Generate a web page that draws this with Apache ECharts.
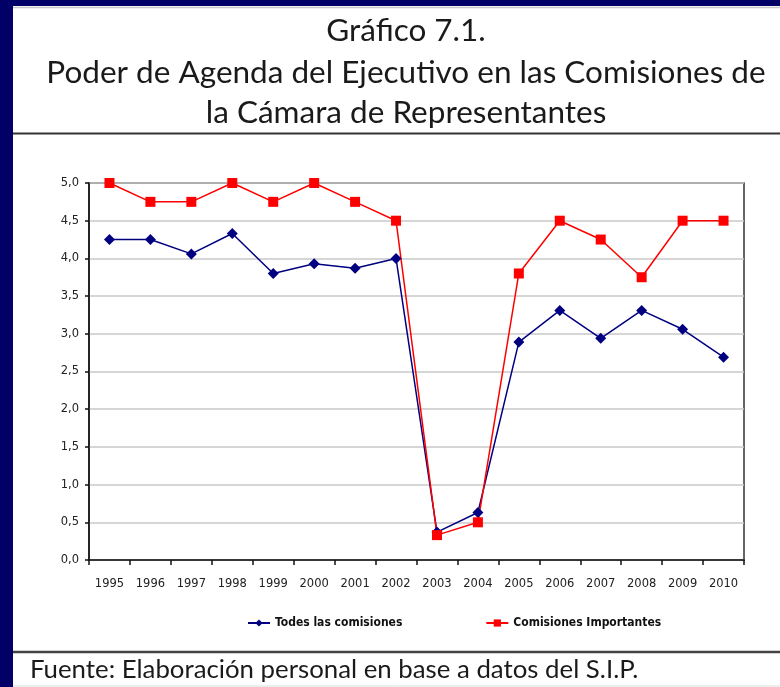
<!DOCTYPE html>
<html>
<head>
<meta charset="utf-8">
<script src="https://cdn.jsdelivr.net/npm/echarts@6/dist/echarts.min.js"></script>
<style>
html,body{margin:0;padding:0;background:#fff;}
#chart{width:780px;height:687px;}
</style>
</head>
<body>
<div id="chart"></div>
<script>
const years = ['1995','1996','1997','1998','1999','2000','2001','2002','2003','2004','2005','2006','2007','2008','2009','2010'];
const todasComisiones = [4.25, 4.25, 4.06, 4.33, 3.80, 3.93, 3.87, 4.00, 0.37, 0.63, 2.89, 3.31, 2.94, 3.31, 3.06, 2.69];
const comisionesImportantes = [5.00, 4.75, 4.75, 5.00, 4.75, 5.00, 4.75, 4.50, 0.33, 0.50, 3.80, 4.50, 4.25, 3.75, 4.50, 4.50];
const seriesNames = ['Todes las comisiones', 'Comisiones Importantes'];
const titleLines = ['Gráfico 7.1.', 'Poder de Agenda del Ejecutivo en las Comisiones de', 'la Cámara de Representantes'];
const sourceNote = 'Fuente: Elaboración personal en base a datos del S.I.P.';

const chart = echarts.init(document.getElementById('chart'), null, {renderer:'canvas'});
const navy = '#000066';
const titleFont = 'Lato';
const option = {
  backgroundColor: '#ffffff',
  animation: false,
  grid: { left: 89, right: 36, top: 183, bottom: 127, show: true, borderColor: '#333', borderWidth: 1.5, backgroundColor: 'transparent' },
  xAxis: {
    type: 'category',
    data: years,
    boundaryGap: true,
    axisLine: { lineStyle: { color: '#111', width: 1.5 } },
    axisTick: { show: true, length: 5, lineStyle: { color: '#111', width: 1.5 } },
    axisLabel: { color: '#222', fontFamily: 'DejaVu Sans', fontSize: 11.5, margin: 18 },
    splitLine: { show: false }
  },
  yAxis: {
    type: 'value',
    min: 0, max: 5, interval: 0.5,
    axisLine: { show: true, lineStyle: { color: '#111', width: 1.5 } },
    axisTick: { show: true, length: 4, lineStyle: { color: '#111', width: 1.5 } },
    axisLabel: { color: '#222', fontFamily: 'DejaVu Sans', fontSize: 11.5, margin: 10,
      formatter: v => v.toFixed(1).replace('.', ',') },
    splitLine: { lineStyle: { color: '#c8c8c8', width: 1.5 } }
  },
  legend: {
    left: 242, top: 612,
    itemWidth: 22, itemHeight: 9, itemGap: 83,
    textStyle: { fontFamily: 'DejaVu Sans Condensed', fontWeight: 'bold', fontSize: 12, color: '#111' },
    data: seriesNames
  },
  series: [
    { name: seriesNames[0], type: 'line', data: todasComisiones, symbol: 'diamond', symbolSize: 11,
      itemStyle: { color: '#000080' }, lineStyle: { color: '#000080', width: 1.5 } },
    { name: seriesNames[1], type: 'line', data: comisionesImportantes, symbol: 'rect', symbolSize: 10,
      itemStyle: { color: '#ff0000' }, lineStyle: { color: '#ff0000', width: 1.5 } }
  ],
  graphic: [
    { type: 'rect', shape: { x: 0, y: 0, width: 13, height: 687 }, style: { fill: navy }, silent: true },
    { type: 'rect', shape: { x: 0, y: 0, width: 780, height: 6 }, style: { fill: navy }, silent: true },
    { type: 'line', shape: { x1: 13, y1: 7.5, x2: 780, y2: 7.5 }, style: { stroke: '#c8c8c8', lineWidth: 1.5 }, silent: true },
    { type: 'line', shape: { x1: 13, y1: 133.5, x2: 780, y2: 133.5 }, style: { stroke: '#333', lineWidth: 2 }, silent: true },
    { type: 'line', shape: { x1: 13, y1: 652, x2: 780, y2: 652 }, style: { stroke: '#444', lineWidth: 2.5 }, silent: true },
    { type: 'line', shape: { x1: 13, y1: 686, x2: 780, y2: 686 }, style: { stroke: '#dddddd', lineWidth: 1 }, silent: true },
    { type: 'text', x: 406, y: 31, style: { text: titleLines[0], font: '31.5px ' + titleFont, fill: '#1a1a1a', textAlign: 'center', textVerticalAlign: 'middle' } },
    { type: 'text', x: 406, y: 73, style: { text: titleLines[1], font: '31.5px ' + titleFont, fill: '#1a1a1a', textAlign: 'center', textVerticalAlign: 'middle' } },
    { type: 'text', x: 406, y: 113, style: { text: titleLines[2], font: '31.5px ' + titleFont, fill: '#1a1a1a', textAlign: 'center', textVerticalAlign: 'middle' } },
    { type: 'text', x: 30, y: 670, style: { text: sourceNote, font: '25.8px ' + titleFont, fill: '#1a1a1a', textAlign: 'left', textVerticalAlign: 'middle' } }
  ]
};
chart.setOption(option);
</script>
</body>
</html>
